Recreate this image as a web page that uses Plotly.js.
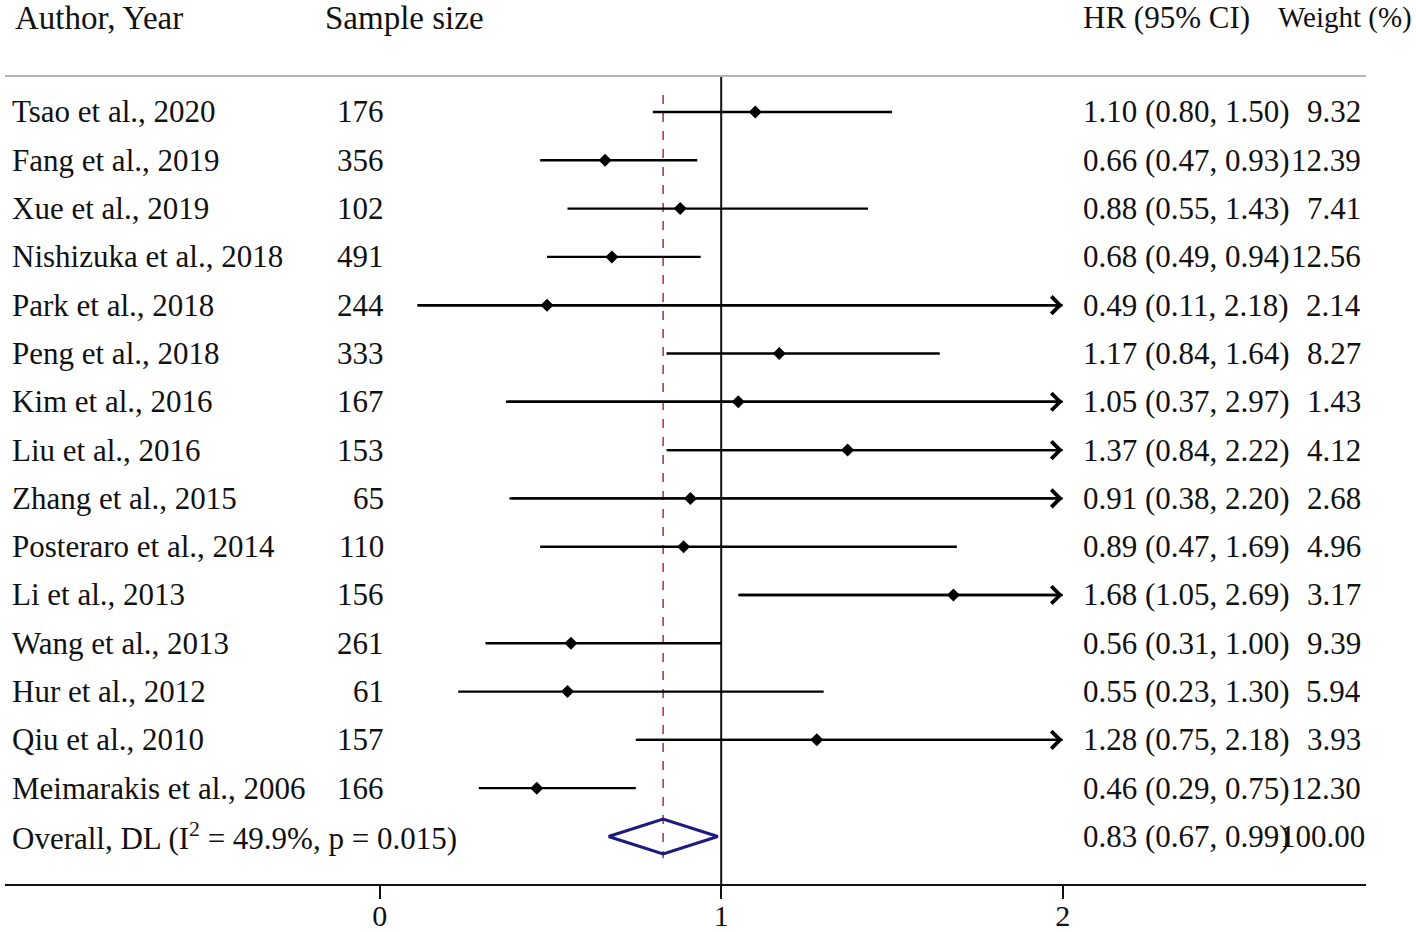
<!DOCTYPE html>
<html>
<head>
<meta charset="utf-8">
<script src="https://cdn.plot.ly/plotly-3.0.1.min.js"></script>
<style>html,body{margin:0;padding:0;background:#fff;}#chart{width:1416px;height:932px;}</style>
</head>
<body>
<div id="chart"></div>
<script>
// ---- data ----
const authors = ["Tsao et al., 2020", "Fang et al., 2019", "Xue et al., 2019", "Nishizuka et al., 2018",
  "Park et al., 2018", "Peng et al., 2018", "Kim et al., 2016", "Liu et al., 2016", "Zhang et al., 2015",
  "Posteraro et al., 2014", "Li et al., 2013", "Wang et al., 2013", "Hur et al., 2012", "Qiu et al., 2010",
  "Meimarakis et al., 2006"];
const sampleSize = [176, 356, 102, 491, 244, 333, 167, 153, 65, 110, 156, 261, 61, 157, 166];
const hr    = [1.10, 0.66, 0.88, 0.68, 0.49, 1.17, 1.05, 1.37, 0.91, 0.89, 1.68, 0.56, 0.55, 1.28, 0.46];
const lower = [0.80, 0.47, 0.55, 0.49, 0.11, 0.84, 0.37, 0.84, 0.38, 0.47, 1.05, 0.31, 0.23, 0.75, 0.29];
const upper = [1.50, 0.93, 1.43, 0.94, 2.18, 1.64, 2.97, 2.22, 2.20, 1.69, 2.69, 1.00, 1.30, 2.18, 0.75];
const weights = ["9.32", "12.39", "7.41", "12.56", "2.14", "8.27", "1.43", "4.12", "2.68", "4.96", "3.17", "9.39", "5.94", "3.93", "12.30"];
const overallLabel = "Overall, DL (I<sup>2</sup> = 49.9%, p = 0.015)";
const overallHR = 0.83, overallLower = 0.67, overallUpper = 0.99, overallWeight = "100.00";
const xTickVals = [0, 1, 2];
const xTickText = ["0", "1", "2"];
const headers = {author: "Author, Year", n: "Sample size", hr: "HR (95% CI)", w: "Weight (%)"};

// ---- layout helpers (pixel positions are styling) ----
const W = 1416, H = 932, T = 76, B = 48;
const FONT = "Liberation Serif, Times New Roman, serif";
const fs = 31;
const xCap = 2; // right end of displayed scale
const px = p => p / W;
const py = p => (H - B - p) / (H - T - B);
const rows = authors.map((_, i) => i);
const overallRow = authors.length;

const traces = [];
// CI lines
const lx = [], ly = [];
rows.forEach(i => { lx.push(lower[i], Math.min(upper[i], xCap), null); ly.push(i, i, null); });
traces.push({x: lx, y: ly, mode: "lines", line: {color: "#000", width: 2.4}, hoverinfo: "skip", showlegend: false});
// point estimates
traces.push({x: hr, y: rows, mode: "markers", marker: {symbol: "diamond", size: 10, color: "#000"}, showlegend: false});
// overall diamond
const dh = 0.36;
traces.push({
  x: [overallLower, overallHR, overallUpper, overallHR, overallLower],
  y: [overallRow, overallRow - dh, overallRow, overallRow + dh, overallRow],
  mode: "lines", line: {color: "#1b1b7d", width: 3}, showlegend: false, hoverinfo: "skip"
});

const ann = [];
const txt = (text, x, y, anchor) => ann.push({text, x: px(x), xref: "paper", y, yref: "y",
  xanchor: anchor, yanchor: "middle", showarrow: false, font: {family: FONT, size: fs, color: "#111"}});
const htxt = (text, x, size) => ann.push({text, x: px(x), xref: "paper", y: py(18), yref: "paper",
  xanchor: "left", yanchor: "middle", showarrow: false, font: {family: FONT, size: size, color: "#111"}});

// header row
htxt(headers.author, 13, 33);
htxt(headers.n, 323, 33);
htxt(headers.hr, 1081, 31);
htxt(headers.w, 1276, 29);

rows.forEach(i => {
  txt(authors[i], 10, i, "left");
  txt(String(sampleSize[i]), 386, i, "right");
  txt(hr[i].toFixed(2) + " (" + lower[i].toFixed(2) + ", " + upper[i].toFixed(2) + ")", 1081, i, "left");
  txt(weights[i], 1363, i, "right");
  if (upper[i] > xCap) {
    ann.push({x: xCap, y: i, xref: "x", yref: "y", ax: lower[i], ay: i, axref: "x", ayref: "y",
      text: "", showarrow: true, arrowhead: 4, arrowsize: 1.4, arrowwidth: 2.4, arrowcolor: "#000", standoff: 0});
  }
});
txt(overallLabel, 10, overallRow, "left");
txt(overallHR.toFixed(2) + " (" + overallLower.toFixed(2) + ", " + overallUpper.toFixed(2) + ")", 1081, overallRow, "left");
txt(overallWeight, 1367, overallRow, "right");

const layout = {
  width: W, height: H,
  margin: {l: 0, r: 0, t: T, b: B},
  paper_bgcolor: "#fff", plot_bgcolor: "#fff",
  showlegend: false,
  xaxis: {
    domain: [px(5), px(1366)], range: [-1.097, 2.888],
    showline: true, linecolor: "#111", linewidth: 2,
    ticks: "outside", ticklen: 13, tickwidth: 2, tickcolor: "#111",
    ticklabelstandoff: -9,
    tickvals: xTickVals, ticktext: xTickText,
    tickfont: {family: FONT, size: 30, color: "#111"},
    showgrid: false, zeroline: false, fixedrange: true
  },
  yaxis: {
    range: [15.984, -0.745], visible: false, showgrid: false, zeroline: false, fixedrange: true
  },
  shapes: [
    {type: "line", xref: "paper", yref: "paper", x0: px(5), x1: px(1366), y0: 1, y1: 1, line: {color: "#b4b4b4", width: 2}},
    {type: "line", xref: "x", yref: "paper", x0: 1, x1: 1, y0: 0, y1: 1, line: {color: "#111", width: 2}, layer: "below"},
    {type: "line", xref: "x", yref: "y", x0: overallHR, x1: overallHR, y0: -0.35, y1: 15.45,
      line: {color: "#a83238", width: 1.5, dash: "dash"}, layer: "below"}
  ],
  annotations: ann
};

Plotly.newPlot("chart", traces, layout, {displayModeBar: false, staticPlot: true});
</script>
</body>
</html>
